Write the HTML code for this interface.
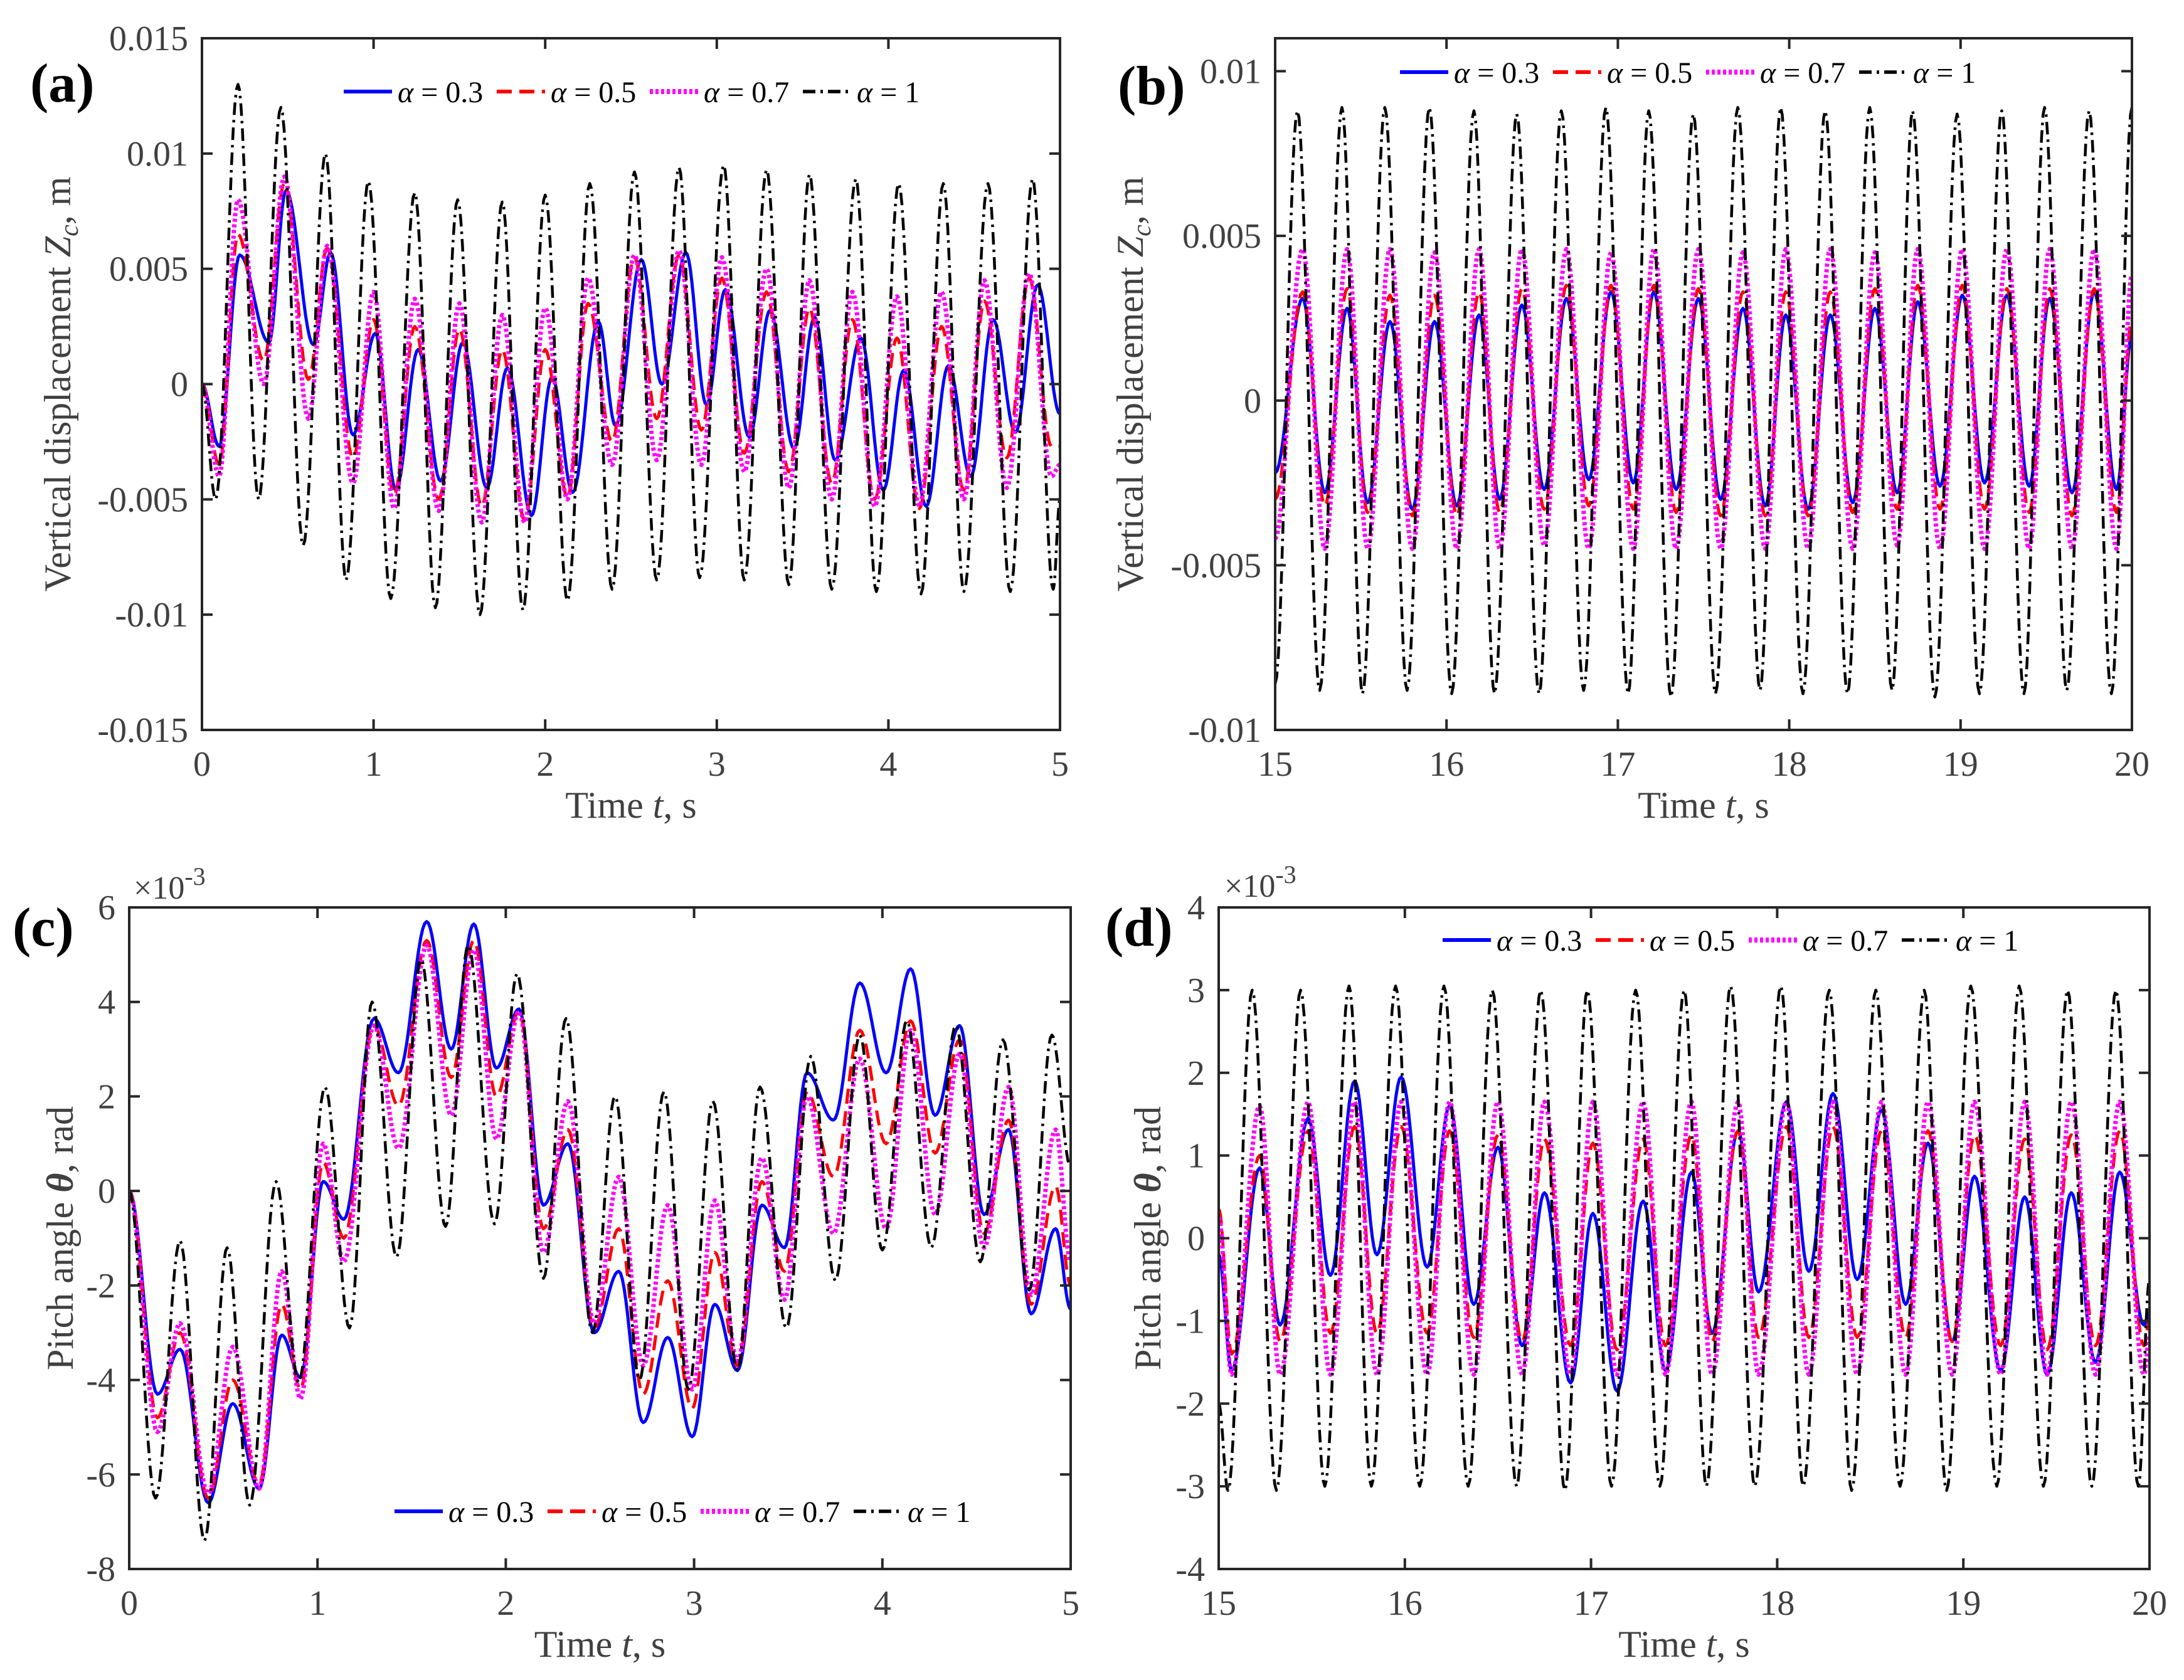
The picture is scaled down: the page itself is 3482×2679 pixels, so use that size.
<!DOCTYPE html>
<html><head><meta charset="utf-8">
<style>
html,body{margin:0;padding:0;background:#fff;}
svg{display:block;}
text{font-family:"Liberation Serif","DejaVu Serif",serif;}
</style></head>
<body>
<svg id="fig" xmlns="http://www.w3.org/2000/svg" width="3482" height="2679" viewBox="0 0 3482 2679">
<rect x="0" y="0" width="3482" height="2679" fill="#fff"/>
</svg>
<script>
// ---------- Panel (a): vertical displacement, values in 1e-3 m ----------
const aTimeBlue = [0,0.1,0.22,0.39,0.49,0.65,0.75,0.88,1.01,1.13,1.26,1.39,1.52,1.66,1.78,1.92,2.04,2.16,2.31,2.41,2.56,2.68,2.82,2.94,3.05,3.19,3.31,3.45,3.57,3.69,3.84,3.97,4.09,4.22,4.35,4.48,4.61,4.74,4.87,5.0];
const aBlue = [0,-2.7,5.6,1.8,8.4,1.7,5.7,-2.2,2.2,-4.6,1.5,-4.2,1.8,-4.5,0.7,-5.7,0.3,-4.7,2.7,-1.8,5.4,0.0,5.7,-0.9,4.1,-2.3,3.2,-2.8,2.9,-3.3,2.0,-4.6,0.6,-5.3,0.8,-4.0,2.8,-2.1,4.3,-1.3];
const aTimeCol = [0,0.1,0.21,0.36,0.48,0.62,0.73,0.88,1.0,1.12,1.24,1.38,1.5,1.63,1.75,1.88,2.0,2.13,2.25,2.39,2.52,2.65,2.78,2.91,3.03,3.16,3.29,3.42,3.54,3.67,3.79,3.92,4.05,4.18,4.31,4.44,4.56,4.69,4.82,4.95,5.0];
const aRed = [0,-3.5,6.5,1.0,8.7,0.2,5.9,-3.2,2.8,-4.8,2.5,-5.0,2.4,-5.3,1.5,-5.9,1.5,-4.9,3.5,-2.5,5.5,-1.5,5.6,-2.0,4.6,-3.0,4.0,-3.8,3.3,-4.3,2.8,-5.0,2.0,-5.4,2.5,-4.6,3.6,-3.2,4.6,-2.7,-2.7];
const aMag = [0,-4.0,8.0,0.0,9.0,-1.5,6.0,-4.3,4.0,-5.4,3.7,-5.5,3.5,-6.0,3.0,-6.0,3.3,-5.0,4.6,-3.5,5.6,-3.3,5.8,-3.5,5.5,-3.8,5.0,-4.5,4.5,-5.0,4.0,-5.3,3.8,-5.3,4.0,-5.0,4.5,-4.5,4.8,-4.0,-3.5];
const aTimeBlack = [0,0.08,0.21,0.33,0.46,0.59,0.72,0.84,0.97,1.10,1.24,1.36,1.49,1.62,1.75,1.87,2.0,2.13,2.26,2.39,2.52,2.65,2.78,2.9,3.04,3.16,3.29,3.42,3.54,3.67,3.81,3.93,4.06,4.19,4.32,4.44,4.58,4.71,4.84,4.96,5.0];
const aBlack = [0,-5.0,13.0,-5.0,12.0,-7.0,10.0,-8.5,8.8,-9.3,8.3,-9.7,8.0,-10.0,7.9,-9.8,8.2,-9.4,8.7,-8.9,9.2,-8.5,9.4,-8.4,9.5,-8.5,9.3,-8.7,9.1,-8.9,8.9,-9.0,8.7,-9.1,8.7,-9.0,8.7,-9.0,8.9,-8.9,-5.0];
const aYTicks = [-15,-10,-5,0,5,10,15];
const aYTickLabels = ["-0.015","-0.01","-0.005","0","0.005","0.01","0.015"];
const aXTicks = [0,1,2,3,4,5];

// ---------- Panel (b): steady state, values in 1e-3 m ----------
const bTimeCol = [15.0,15.16,15.29,15.42,15.54,15.67,15.80,15.93,16.06,16.19,16.31,16.44,16.57,16.70,16.83,16.96,17.09,17.21,17.34,17.47,17.60,17.73,17.86,17.98,18.11,18.24,18.37,18.50,18.63,18.75,18.88,19.01,19.14,19.27,19.40,19.52,19.65,19.78,19.91,20.0];
const bBlue = [-2.2,3.1,-2.8,2.8,-3.1,2.4,-3.3,2.4,-3.2,2.6,-3.0,2.9,-2.7,3.1,-2.4,3.3,-2.5,3.3,-2.7,3.1,-3.0,2.8,-3.2,2.6,-3.3,2.6,-3.1,2.8,-2.8,3.0,-2.6,3.2,-2.5,3.2,-2.6,3.1,-2.8,3.3,-2.7,2.0];
const bRed = [-3.0,3.3,-3.2,3.4,-3.4,3.2,-3.5,3.2,-3.5,3.3,-3.4,3.4,-3.3,3.5,-3.2,3.5,-3.3,3.5,-3.4,3.4,-3.5,3.3,-3.5,3.3,-3.5,3.3,-3.4,3.4,-3.3,3.5,-3.3,3.5,-3.3,3.4,-3.4,3.4,-3.5,3.4,-3.4,2.5];
const bMag = [-4.2,4.6,-4.5,4.6,-4.5,4.6,-4.5,4.5,-4.5,4.6,-4.5,4.6,-4.4,4.6,-4.5,4.5,-4.5,4.6,-4.5,4.6,-4.5,4.5,-4.5,4.6,-4.5,4.6,-4.5,4.5,-4.4,4.6,-4.5,4.6,-4.5,4.6,-4.5,4.6,-4.5,4.6,-4.5,3.8];
const bTimeBlack = [15.0,15.13,15.26,15.39,15.51,15.64,15.77,15.90,16.03,16.16,16.28,16.41,16.54,16.67,16.80,16.93,17.06,17.18,17.31,17.44,17.57,17.70,17.83,17.95,18.08,18.21,18.34,18.47,18.60,18.72,18.85,18.98,19.11,19.24,19.37,19.49,19.62,19.75,19.88,20.0];
const bBlack = [-8.6,8.8,-8.8,8.9,-8.9,8.9,-8.8,8.9,-8.9,8.8,-8.9,8.7,-8.9,8.8,-8.8,8.9,-8.9,8.8,-9.0,8.7,-8.9,8.9,-8.8,8.9,-8.9,8.8,-8.9,8.9,-8.8,8.8,-9.0,8.7,-8.9,8.8,-8.9,8.9,-8.8,8.8,-8.9,8.9];
const bYTicks = [-10,-5,0,5,10];
const bYTickLabels = ["-0.01","-0.005","0","0.005","0.01"];
const bXTicks = [15,16,17,18,19,20];

// ---------- Panel (c): pitch angle, values in 1e-3 rad ----------
const cTimeCol = [0,0.15,0.27,0.42,0.55,0.69,0.81,0.91,1.03,1.14,1.3,1.43,1.58,1.71,1.83,1.95,2.07,2.2,2.33,2.47,2.6,2.73,2.86,2.99,3.11,3.23,3.36,3.48,3.6,3.74,3.88,4.02,4.15,4.28,4.41,4.54,4.67,4.79,4.92,5.0];
const cBlue = [0,-4.3,-3.35,-6.6,-4.5,-6.3,-3.05,-3.95,0.2,-0.6,3.65,2.5,5.7,3.0,5.65,2.6,3.85,-0.3,1.0,-3.0,-1.7,-4.9,-3.1,-5.2,-2.4,-3.8,-0.3,-1.2,2.5,1.5,4.4,2.5,4.7,1.6,3.5,-0.5,1.3,-2.6,-0.8,-2.5];
const cRed = [0,-4.8,-3.0,-6.5,-4.0,-6.2,-2.4,-4.2,0.6,-1.0,3.5,1.8,5.3,2.4,5.3,2.0,3.8,-0.8,1.3,-2.9,-0.8,-4.3,-1.9,-4.6,-1.3,-3.7,0.2,-1.7,2.1,0.3,3.4,1.0,3.6,0.8,3.2,-0.9,1.5,-2.4,0.1,-2.0];
const cMag = [0,-5.1,-2.8,-6.4,-3.3,-6.3,-1.7,-4.4,1.0,-1.5,3.5,0.9,5.2,1.6,5.1,1.1,3.8,-1.3,1.9,-2.8,0.3,-3.7,-0.3,-4.2,-0.2,-3.6,0.7,-2.3,2.0,-0.9,2.8,-0.8,3.4,-0.5,2.9,-1.2,2.2,-2.2,1.3,-1.5];
const cTimeBlack = [0,0.14,0.27,0.40,0.52,0.64,0.78,0.90,1.04,1.17,1.29,1.42,1.55,1.68,1.80,1.94,2.06,2.20,2.32,2.46,2.58,2.71,2.84,2.97,3.10,3.23,3.35,3.49,3.62,3.75,3.88,4.00,4.13,4.26,4.39,4.52,4.64,4.78,4.90,5.0];
const cBlack = [0,-6.5,-1.05,-7.4,-1.2,-6.65,0.2,-4.05,2.2,-2.9,4.0,-1.4,4.9,-0.75,5.2,-0.7,4.6,-1.85,3.65,-3.0,2.0,-4.0,2.1,-4.2,1.9,-3.8,2.2,-2.9,2.85,-1.9,3.3,-1.25,3.6,-1.2,3.5,-1.5,3.2,-2.1,3.3,0.5];
const cYTicks = [-8,-6,-4,-2,0,2,4,6];
const cYTickLabels = ["-8","-6","-4","-2","0","2","4","6"];
const cXTicks = [0,1,2,3,4,5];

// ---------- Panel (d): steady pitch, values in 1e-3 rad ----------
const dTimeCol = [15.0,15.07,15.22,15.33,15.48,15.60,15.73,15.85,15.98,16.12,16.24,16.37,16.50,16.63,16.75,16.89,17.01,17.14,17.28,17.40,17.54,17.65,17.79,17.90,18.05,18.17,18.30,18.43,18.56,18.69,18.81,18.94,19.06,19.20,19.33,19.45,19.58,19.71,19.84,19.97,20.0];
const dBlue = [-0.2,-1.6,0.85,-1.05,1.45,-0.45,1.9,-0.2,1.95,-0.35,1.6,-0.8,1.1,-1.3,0.55,-1.75,0.3,-1.85,0.45,-1.6,0.8,-1.15,1.3,-0.65,1.65,-0.4,1.75,-0.5,1.55,-0.8,1.15,-1.25,0.75,-1.6,0.5,-1.65,0.55,-1.5,0.8,-1.05,-0.9];
const dRed = [0.35,-1.4,1.0,-1.25,1.3,-1.15,1.35,-1.15,1.35,-1.15,1.3,-1.2,1.25,-1.25,1.2,-1.3,1.15,-1.35,1.2,-1.3,1.25,-1.25,1.3,-1.2,1.35,-1.2,1.35,-1.2,1.3,-1.2,1.3,-1.25,1.25,-1.3,1.2,-1.35,1.25,-1.3,1.3,-1.3,-1.0];
const dMag = [0.25,-1.65,1.6,-1.65,1.65,-1.65,1.65,-1.65,1.65,-1.65,1.65,-1.65,1.65,-1.65,1.65,-1.65,1.65,-1.65,1.65,-1.65,1.65,-1.65,1.65,-1.65,1.65,-1.65,1.65,-1.65,1.65,-1.65,1.65,-1.65,1.65,-1.65,1.65,-1.65,1.65,-1.65,1.65,-1.65,-1.2];
const dTimeBlack = [15.0,15.05,15.18,15.31,15.44,15.57,15.70,15.82,15.95,16.08,16.21,16.34,16.47,16.60,16.73,16.86,16.98,17.11,17.24,17.37,17.50,17.62,17.75,17.88,18.02,18.14,18.28,18.40,18.53,18.66,18.79,18.91,19.04,19.18,19.30,19.43,19.56,19.69,19.82,19.94,20.0];
const dBlack = [-2.0,-3.05,3.0,-3.05,3.0,-3.0,3.05,-3.0,3.05,-3.0,3.05,-3.0,3.0,-3.0,3.0,-3.05,3.0,-3.0,3.0,-3.0,3.0,-3.0,3.05,-3.0,3.05,-3.0,3.0,-3.05,3.0,-3.0,3.0,-3.05,3.05,-3.0,3.05,-3.0,3.0,-3.0,3.0,-3.0,-0.5];
const dYTicks = [-4,-3,-2,-1,0,1,2,3,4];
const dYTickLabels = ["-4","-3","-2","-1","0","1","2","3","4"];
const dXTicks = [15,16,17,18,19,20];

const legendLabels = ["0.3","0.5","0.7","1"];

const NS = "http://www.w3.org/2000/svg";
const fig = document.getElementById("fig");
function mk(tag, attrs, parent){
  const e = document.createElementNS(NS, tag);
  for (const k in attrs) e.setAttribute(k, attrs[k]);
  (parent||fig).appendChild(e);
  return e;
}
const STY = [
  {stroke:"#0000ff", w:5, dash:""},
  {stroke:"#ff0000", w:5, dash:"24 12"},
  {stroke:"#ff00ff", w:7, dash:"5 4"},
  {stroke:"#000000", w:4.5, dash:"20 8 4 8"}
];
const SNAMES = ["series-alpha-0.3","series-alpha-0.5","series-alpha-0.7","series-alpha-1"];
const TXT = "#404040";

function panel(p){
  const g = mk("g", {});
  
  
  const xs = v => p.L + (v - p.x0) / (p.x1 - p.x0) * (p.R - p.L);
  const ys = v => p.B - (v - p.y0) / (p.y1 - p.y0) * (p.B - p.T);
  const cp = mk("clipPath", {id:"clip-"+p.id}, g);
  mk("rect", {x:p.L, y:p.T, width:p.R-p.L, height:p.B-p.T}, cp);
  // series
  const sg = mk("g", {"clip-path":"url(#clip-"+p.id+")"}, g);
  p.series.forEach((s, i) => {
    const tt = s[0], vv = s[1];
    let d = "M" + xs(tt[0]).toFixed(1) + "," + ys(vv[0]).toFixed(1);
    for (let k = 0; k < tt.length - 1; k++){
      const N = 14;
      for (let j = 1; j <= N; j++){
        const f = j / N;
        const t = tt[k] + (tt[k+1] - tt[k]) * f;
        const v = vv[k] + (vv[k+1] - vv[k]) * (1 - Math.cos(Math.PI * f)) / 2;
        d += " L" + xs(t).toFixed(1) + "," + ys(v).toFixed(1);
      }
    }
    const st = STY[i];
    const path = mk("path", {d:d, fill:"none", stroke:st.stroke, "stroke-width":st.w, "stroke-dasharray":st.dash, "stroke-linejoin":"round"}, sg);
    
    
  });
  // axes box
  const box = mk("rect", {x:p.L, y:p.T, width:p.R-p.L, height:p.B-p.T, fill:"none", stroke:"#262626", "stroke-width":4}, g);
  
  
  // y ticks
  p.yt.forEach((v, i) => {
    const y = ys(v);
    mk("line", {x1:p.L, y1:y, x2:p.L+17, y2:y, stroke:"#262626", "stroke-width":4}, g);
    mk("line", {x1:p.R, y1:y, x2:p.R-17, y2:y, stroke:"#262626", "stroke-width":4}, g);
    const t = mk("text", {x:p.L-22, y:y+19, "text-anchor":"end", "font-size":56, fill:TXT}, g);
    t.textContent = p.ytl[i];
    
    
  });
  p.xt.forEach(v => {
    const x = xs(v);
    mk("line", {x1:x, y1:p.B, x2:x, y2:p.B-17, stroke:"#262626", "stroke-width":4}, g);
    mk("line", {x1:x, y1:p.T, x2:x, y2:p.T+17, stroke:"#262626", "stroke-width":4}, g);
    const t = mk("text", {x:x, y:p.B+73, "text-anchor":"middle", "font-size":56, fill:TXT}, g);
    t.textContent = String(v);
    
    
  });
  // x label
  const xl = mk("text", {x:(p.L+p.R)/2, y:p.B+140, "text-anchor":"middle", "font-size":60, fill:TXT}, g);
  xl.innerHTML = 'Time <tspan font-style="italic">t</tspan>, s';
  
  
  // y label
  const cy = (p.T+p.B)/2;
  const yl = mk("text", {x:p.ylx, y:cy, "text-anchor":"middle", "font-size":60, fill:TXT, transform:"rotate(-90 "+p.ylx+" "+cy+")"}, g);
  yl.innerHTML = p.ylab;
  
  
  // panel letter
  const pl = mk("text", {x:p.lx, y:p.ly, "font-size":88, "font-weight":"bold", fill:"#000"}, g);
  pl.textContent = "(" + p.id + ")";
  
  
  // exponent
  if (p.exp){
    const ex = mk("text", {x:p.exp[0], y:p.exp[1], "font-size":52, fill:TXT}, g);
    ex.innerHTML = '×10<tspan dy="-22" font-size="40">-3</tspan>';
    
    
  }
  // legend
  const lg = mk("g", {}, g);
  
  
  legendLabels.forEach((lab, i) => {
    const x0 = p.legX + i * 244, y0 = p.legY;
    const st = STY[i];
    const ln = mk("line", {x1:x0, y1:y0, x2:x0+77, y2:y0, stroke:st.stroke, "stroke-width":st.w+1, "stroke-dasharray":st.dash}, lg);
    
    
    const tx = mk("text", {x:x0+86, y:y0+17, "font-size":48, fill:"#000"}, lg);
    tx.innerHTML = '<tspan font-style="italic">α</tspan> = ' + lab;
    
    
  });
}

panel({id:"a", L:322, R:1690, T:61, B:1164, x0:0, x1:5, y0:-15, y1:15,
  yt:aYTicks, ytl:aYTickLabels, xt:aXTicks, ylx:112,
  ylab:'Vertical displacement <tspan font-style="italic">Z</tspan><tspan font-style="italic" font-size="42" dy="12">c</tspan><tspan dy="-12">, m</tspan>',
  lx:48, ly:162, legX:548, legY:146,
  series:[[aTimeBlue,aBlue],[aTimeCol,aRed],[aTimeCol,aMag],[aTimeBlack,aBlack]]});
panel({id:"b", L:2033, R:3399, T:61, B:1164, x0:15, x1:20, y0:-10, y1:11,
  yt:bYTicks, ytl:bYTickLabels, xt:bXTicks, ylx:1822,
  ylab:'Vertical displacement <tspan font-style="italic">Z</tspan><tspan font-style="italic" font-size="42" dy="12">c</tspan><tspan dy="-12">, m</tspan>',
  lx:1782, ly:166, legX:2232, legY:115,
  series:[[bTimeCol,bBlue],[bTimeCol,bRed],[bTimeCol,bMag],[bTimeBlack,bBlack]]});
panel({id:"c", L:206, R:1707, T:1447, B:2502, x0:0, x1:5, y0:-8, y1:6,
  yt:cYTicks, ytl:cYTickLabels, xt:cXTicks, ylx:116,
  ylab:'Pitch angle <tspan font-style="italic" font-weight="bold">θ</tspan>, rad',
  lx:20, ly:1508, legX:629, legY:2410, exp:[213,1433],
  series:[[cTimeCol,cBlue],[cTimeCol,cRed],[cTimeCol,cMag],[cTimeBlack,cBlack]]});
panel({id:"d", L:1943, R:3427, T:1447, B:2502, x0:15, x1:20, y0:-4, y1:4,
  yt:dYTicks, ytl:dYTickLabels, xt:dXTicks, ylx:1850,
  ylab:'Pitch angle <tspan font-style="italic" font-weight="bold">θ</tspan>, rad',
  lx:1762, ly:1508, legX:2300, legY:1499, exp:[1952,1430],
  series:[[dTimeCol,dBlue],[dTimeCol,dRed],[dTimeCol,dMag],[dTimeBlack,dBlack]]});
</script>
</body></html>
